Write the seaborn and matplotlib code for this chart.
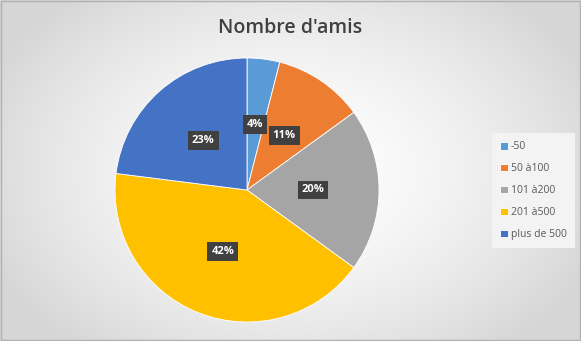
import numpy as np
import matplotlib
matplotlib.use("Agg")
import matplotlib.pyplot as plt
import seaborn as sns
from matplotlib.patches import Rectangle

categories = ["-50", "50 à100", "101 à200", "201 à500", "plus de 500"]
values = [4, 11, 20, 42, 23]
colors = ["#5B9BD5", "#ED7D31", "#A5A5A5", "#FFC000", "#4472C4"]
title = "Nombre d'amis"

sns.set_theme(style="white")
plt.rcParams["font.family"] = ["Open Sans", "DejaVu Sans"]

W, H = 581, 341
fig = plt.figure(figsize=(W / 100, H / 100), dpi=100)

# radial gradient background
bg = fig.add_axes([0, 0, 1, 1])
yy, xx = np.mgrid[0:H, 0:W]
d = np.sqrt(((xx - 290) / 330.0) ** 2 + ((yy - 170) / 230.0) ** 2)
d = np.clip(d, 0, 1)
lvl = 1.0 - 0.16 * d ** 1.6
img = np.dstack([lvl, lvl, lvl])
bg.imshow(img, extent=[0, 1, 0, 1], aspect="auto", origin="upper")
bg.set_axis_off()
bg.add_patch(Rectangle((0.001, 0.002), 0.997, 0.995, transform=bg.transAxes,
                       fill=False, edgecolor="#b0b0b0", linewidth=1.0))

cx, cy, R = 247, 190, 132
ax = fig.add_axes([(cx - R) / W, (H - cy - R) / H, 2 * R / W, 2 * R / H])
wedges, texts, autotexts = ax.pie(
    values, colors=colors, startangle=90, counterclock=False,
    autopct=lambda p: f"{p:.0f}%", pctdistance=0.5,
    wedgeprops=dict(edgecolor="white", linewidth=0.6),
    textprops=dict(color="white", fontsize=8, fontweight="bold"))
for t in autotexts:
    t.set_bbox(dict(boxstyle="square,pad=0.35", facecolor="#404040", edgecolor="none"))
ax.set_aspect("equal")
ax.set_xlim(-1, 1)
ax.set_ylim(-1, 1)
ax.set_axis_off()

fig.text(290 / W, 1 - 28 / H, title, ha="center", va="center",
         fontsize=14, fontweight="semibold", color="#404040")

leg = fig.legend(wedges, categories, loc="upper left",
                 bbox_to_anchor=(492 / W, 1 - 133 / H),
                 frameon=True, fontsize=7.5, labelcolor="#595959",
                 handlelength=0.75, handleheight=0.75, handletextpad=0.25,
                 labelspacing=1.05, borderpad=0.8, borderaxespad=0)
leg.get_frame().set_facecolor("#f3f3f3")
leg.get_frame().set_edgecolor("none")
leg.get_frame().set_alpha(1)
leg.get_frame().set_boxstyle("square", pad=0)

fig.savefig("out.png", dpi=100)
